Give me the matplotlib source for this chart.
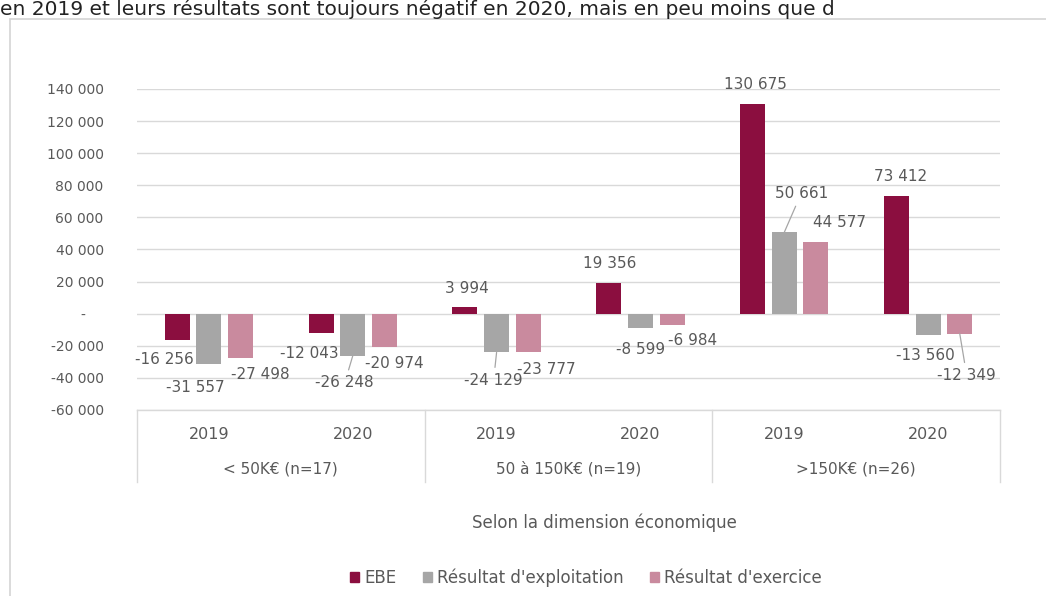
import matplotlib.pyplot as plt
from matplotlib.patches import Patch, Rectangle
from matplotlib.ticker import FuncFormatter
import matplotlib.transforms as mtransforms

# données
annees = ["2019", "2020", "2019", "2020", "2019", "2020"]
groupes = ["< 50K€ (n=17)", "50 à 150K€ (n=19)", ">150K€ (n=26)"]
series = ["EBE", "Résultat d'exploitation", "Résultat d'exercice"]
ebe = [-16256, -12043, 3994, 19356, 130675, 73412]
res_expl = [-31557, -26248, -24129, -8599, 50661, -13560]
res_exer = [-27498, -20974, -23777, -6984, 44577, -12349]
valeurs = [ebe, res_expl, res_exer]

couleurs = ["#8B0E3F", "#A6A6A6", "#C98A9E"]
gris_txt = "#595959"

# décalage des étiquettes (pixels) par rapport au bout de la barre
decal = [
    [(-13, -20), (-12, -20), (2, 19), (1, 19), (3, 19), (4, 19)],
    [(-14, -23), (-8, -27), (-3, -28), (0, -22), (17, 39), (-3, -20)],
    [(20, -17), (10, -16), (18, -18), (21, -16), (24, 20), (7, -42)],
]
guides = [
    [False] * 6,
    [False, True, True, False, True, False],
    [False, False, False, False, False, True],
]

fig = plt.figure(figsize=(10.46, 5.96), dpi=100)
W, H = 1046, 596

# texte du document au-dessus du graphique
fig.text(0, 1 - 15 / H, "en 2019 et leurs résultats sont toujours négatif en 2020, mais en peu moins que d",
         fontsize=14.5, color="#222222", va="baseline", ha="left")
# cadre du graphique
fig.patches.append(Rectangle((10 / W, -0.05), 1.2, 1 - 19 / H + 0.05, transform=fig.transFigure,
                             fill=False, edgecolor="#D4D4D4", linewidth=1.2))

ax = fig.add_axes([137 / W, 1 - 410 / H, (1000 - 137) / W, (410 - 89) / H])

x = list(range(len(annees)))
bw = 0.174
off = 0.22
for k in range(3):
    xs = [i + (k - 1) * off for i in x]
    ax.bar(xs, valeurs[k], width=bw, color=couleurs[k], zorder=3, label=series[k])
    for i, (xi, v) in enumerate(zip(xs, valeurs[k])):
        txt = f"{v:,}".replace(",", " ")
        dx, dy = decal[k][i]
        props = None
        if guides[k][i]:
            props = dict(arrowstyle="-", color="#A6A6A6", lw=0.9, shrinkA=2, shrinkB=0)
        ax.annotate(txt, xy=(xi, v), xytext=(dx, dy), textcoords="offset pixels",
                    ha="center", va="center", fontsize=11, color=gris_txt,
                    arrowprops=props, annotation_clip=False, zorder=4)

ax.set_ylim(-60000, 140000)
ax.set_xlim(-0.5, 5.5)
ax.set_yticks(range(-60000, 140001, 20000))
ax.yaxis.set_major_formatter(FuncFormatter(
    lambda v, p: "-    " if v == 0 else f"{v:,.0f}".replace(",", " ")))
ax.tick_params(axis="y", length=0, pad=24, labelsize=10, labelcolor=gris_txt)
ax.grid(axis="y", color="#D9D9D9", linewidth=1, zorder=0)
ax.axhline(-60000, color="#D9D9D9", linewidth=1, zorder=0, clip_on=False)
for s in ax.spines.values():
    s.set_visible(False)

# axe des catégories à deux niveaux
ax.set_xticks(x)
ax.set_xticklabels(annees)
ax.tick_params(axis="x", length=0, pad=12, labelsize=11.5, labelcolor=gris_txt)
trans = mtransforms.blended_transform_factory(ax.transData, ax.transAxes)
tb = -(482 - 410) / (410 - 89)
for xl in [-0.5, 1.5, 3.5, 5.5]:
    ax.plot([xl, xl], [0, tb], color="#D9D9D9", lw=1, transform=trans, clip_on=False)
for g, nom in enumerate(groupes):
    ax.text(2 * g + 0.5, -(469 - 410) / (410 - 89), nom, transform=trans,
            ha="center", va="center", fontsize=11, color=gris_txt)

fig.text(604 / W, 1 - 523 / H, "Selon la dimension économique", ha="center", va="center",
         fontsize=12, color=gris_txt)

handles = [Patch(color=c) for c in couleurs]
fig.legend(handles, series, loc="center", bbox_to_anchor=(586 / W, 1 - 578 / H), ncol=3,
           frameon=False, fontsize=12, labelcolor=gris_txt, handlelength=0.55, handleheight=0.55,
           handletextpad=0.3, columnspacing=1.6)

fig.savefig("out.png", dpi=100)
